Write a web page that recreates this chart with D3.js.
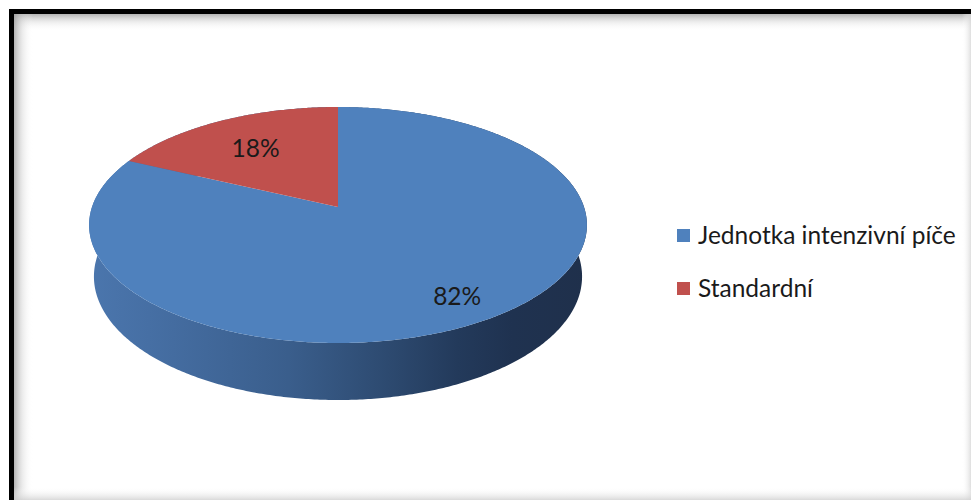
<!DOCTYPE html>
<html>
<head>
<meta charset="utf-8">
<script src="https://cdn.jsdelivr.net/npm/d3@7"></script>
<style>
  html, body { margin: 0; padding: 0; background: #fff; }
  svg { display: block; }
</style>
</head>
<body>
<svg id="chart" width="971" height="500"></svg>
<script>
// Share of patients by ward type
const categories = ["Jednotka intenzivní píče", "Standardní"];
const shares = [82, 18];
const pctLabels = ["82%", "18%"];
const sliceColors = ["#4f81bd", "#c0504d"];

const W = 971, H = 500;
const svg = d3.select("#chart");
const defs = svg.append("defs");

// ---- frame: thick black border with a soft inner shadow ----
svg.append("rect").attr("width", W).attr("height", H).attr("fill", "#fff");

function shade(id, x1, y1, x2, y2, stops) {
  const g = defs.append("linearGradient").attr("id", id)
    .attr("x1", x1).attr("y1", y1).attr("x2", x2).attr("y2", y2);
  stops.forEach(([o, c, a]) => g.append("stop").attr("offset", o)
    .attr("stop-color", c).attr("stop-opacity", a));
}
shade("shTop", 0, 0, 0, 1, [[0, "#9a9a9a", 0.75], [0.45, "#c8c8c8", 0.35], [1, "#fff", 0]]);
shade("shLeft", 0, 0, 1, 0, [[0, "#9a9a9a", 0.75], [0.45, "#c8c8c8", 0.35], [1, "#fff", 0]]);
shade("shRight", 1, 0, 0, 0, [[0, "#d6d6d6", 0.8], [1, "#fff", 0]]);
shade("shBottom", 0, 1, 0, 0, [[0, "#d0d0d0", 0.8], [1, "#fff", 0]]);

svg.append("rect").attr("x", 14).attr("y", 14).attr("width", W - 14).attr("height", 17).attr("fill", "url(#shTop)");
svg.append("rect").attr("x", 14).attr("y", 14).attr("width", 19).attr("height", H - 14).attr("fill", "url(#shLeft)");
svg.append("rect").attr("x", W - 9).attr("y", 14).attr("width", 9).attr("height", H - 14).attr("fill", "url(#shRight)");
svg.append("rect").attr("x", 14).attr("y", H - 13).attr("width", W - 14).attr("height", 13).attr("fill", "url(#shBottom)");

svg.append("rect").attr("x", 9).attr("y", 9).attr("width", W - 9).attr("height", 5).attr("fill", "#000");
svg.append("rect").attr("x", 9).attr("y", 9).attr("width", 5).attr("height", H - 9).attr("fill", "#000");

// ---- 3D pie: unit disc seen in perspective ----
const view = { cx: 338, cy: 207, f: 1424.8, dist: 5.792, sin: 0.4685, cos: 0.8835, depth: 0.2395 };

// angle measured clockwise from 12 o'clock, r in disc radii, h height above top face
function project(theta, r, h) {
  const u = r * Math.sin(theta), v = r * Math.cos(theta);
  const yc = h * view.cos + v * view.sin;
  const zc = view.dist + v * view.cos - h * view.sin;
  return [view.cx + view.f * u / zc, view.cy - view.f * yc / zc];
}

const pie = d3.pie().sort(null).value(d => d.value).startAngle(0).endAngle(2 * Math.PI);
const arcs = pie(categories.map((c, i) => ({ name: c, value: shares[i], label: pctLabels[i], color: sliceColors[i] })));

const line = d3.line().curve(d3.curveLinearClosed);

function rim(a0, a1, h) {
  const n = Math.max(2, Math.ceil((a1 - a0) / 0.01));
  return d3.range(n + 1).map(k => project(a0 + (a1 - a0) * k / n, 1, h));
}

// side shading, lit from the left
const sideGrad = defs.append("linearGradient").attr("id", "side")
  .attr("gradientUnits", "userSpaceOnUse")
  .attr("x1", 89).attr("y1", 0).attr("x2", 587).attr("y2", 0);
[[0, "#4b76ad"], [0.12, "#466fa4"], [0.4, "#3a5e8c"], [0.6, "#2d4a70"], [0.74, "#233a5b"], [0.85, "#1f3250"], [1, "#1f304b"]]
  .forEach(([o, c]) => sideGrad.append("stop").attr("offset", o).attr("stop-color", c));

const pieG = svg.append("g");

// outer walls first, the top faces then cover the hidden back parts
pieG.selectAll("path.wall").data(arcs).join("path")
  .attr("class", "wall")
  .attr("fill", "url(#side)")
  .attr("d", d => line(rim(d.startAngle, d.endAngle, 0).concat(rim(d.startAngle, d.endAngle, -view.depth).reverse())));

pieG.selectAll("path.top").data(arcs).join("path")
  .attr("class", "top")
  .attr("fill", d => d.data.color)
  .attr("d", d => line([project(0, 0, 0)].concat(rim(d.startAngle, d.endAngle, 0))));

// percentage labels on the top face
const labelRadius = d => (d.endAngle - d.startAngle > Math.PI ? 0.81 : 0.68);
pieG.selectAll("text.pct").data(arcs).join("text")
  .attr("class", "pct")
  .attr("x", d => project((d.startAngle + d.endAngle) / 2, labelRadius(d), 0)[0])
  .attr("y", d => project((d.startAngle + d.endAngle) / 2, labelRadius(d), 0)[1] + 1)
  .attr("text-anchor", "middle")
  .attr("dominant-baseline", "central")
  .attr("font-family", "Lato, 'Open Sans', sans-serif")
  .attr("font-size", 24.5)
  .attr("fill", "#1a1a1a")
  .text(d => d.data.label);

// ---- legend ----
const legend = svg.append("g").attr("transform", "translate(677,229)");
const rows = legend.selectAll("g").data(categories).join("g")
  .attr("transform", (d, i) => `translate(0,${i * 53})`);
rows.append("rect").attr("width", 13).attr("height", 13)
  .attr("fill", (d, i) => sliceColors[i]);
rows.append("text").attr("x", 21).attr("y", 15)
  .attr("font-family", "Lato, 'Open Sans', sans-serif")
  .attr("font-size", 24.5)
  .attr("fill", "#1a1a1a")
  .text(d => d);
</script>
</body>
</html>
